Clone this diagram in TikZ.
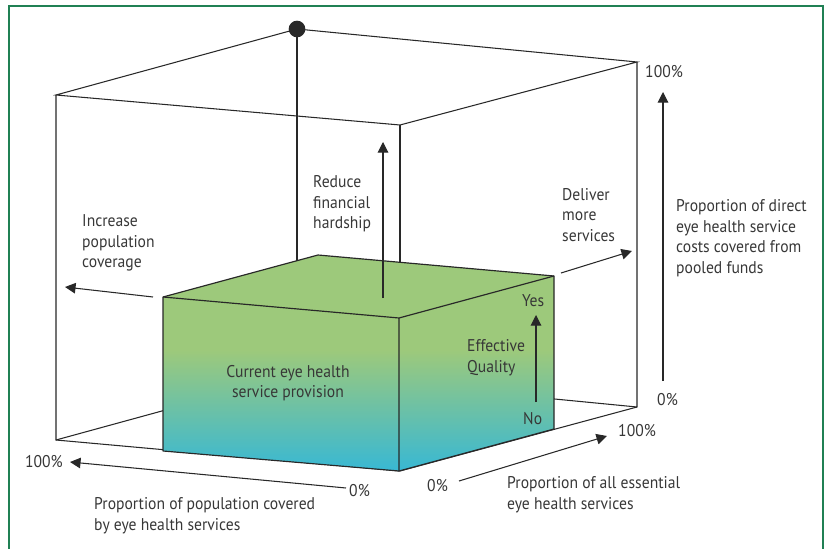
\documentclass[tikz,border=0pt]{standalone}
\usepackage{fontspec}
\setmainfont{PT Sans}[FakeStretch=0.92]
\usetikzlibrary{arrows.meta}

\definecolor{framegreen}{RGB}{32,128,84}
\definecolor{boxgreen}{RGB}{157,201,123}
\definecolor{boxcyan}{RGB}{56,184,212}
\definecolor{inkgray}{RGB}{40,40,40}
\definecolor{txtgray}{RGB}{55,55,55}
\pgfdeclareverticalshading{boxfade}{100bp}{color(0bp)=(boxcyan); color(25bp)=(boxcyan); color(56bp)=(boxgreen); color(100bp)=(boxgreen)}

\tikzset{
  cubeline/.style={draw=inkgray, line width=0.9pt},
  boxline/.style={draw=inkgray, line width=1pt, line join=round},
  pointer/.style={draw=inkgray, line width=0.9pt, -{Triangle[length=9pt,width=9pt]}},
  lbl/.style={inner sep=0pt, text=txtgray, font=\fontsize{14.5}{17.6}\selectfont, align=left},
}

\begin{document}
\begin{tikzpicture}[x=0.3mm, y=-0.3mm]
  \useasboundingbox (0,0) rectangle (830,549);
  % frame
  \draw[framegreen, line width=1.2pt] (9,549) -- (9,6) -- (823,6) -- (823,549);

  % the cube
  \coordinate (tl) at (56,95); \coordinate (tb) at (297,29); \coordinate (tr) at (637,62); \coordinate (tf) at (400,125);
  \coordinate (bl) at (56,440); \coordinate (bb) at (297,374); \coordinate (br) at (637,407); \coordinate (bf) at (400,471);
  \draw[cubeline] (tl) -- (tb) -- (tr) -- (tf) -- cycle;
  \draw[cubeline] (tl) -- (bl) -- (bf) -- (br) -- (tr);
  \draw[cubeline] (tf) -- (bf); \draw[cubeline] (tb) -- (bb);
  \draw[cubeline] (bl) -- (bb) -- (br);
  \node[circle, fill=inkgray, minimum size=5mm, inner sep=0pt] (peak) at (tb) {};

  % current provision box
  \coordinate (gl) at (163,297); \coordinate (gb) at (318,255); \coordinate (gr) at (554,276); \coordinate (gf) at (399,318);
  \coordinate (glb) at (163,451); \coordinate (grb) at (554,429); \coordinate (gfb) at (399,471);
  \shade[shading=boxfade] (gl) -- (gf) -- (gr) -- (grb) -- (gfb) -- (glb) -- cycle;
  \fill[boxgreen] (gl) -- (gb) -- (gr) -- (gf) -- cycle;
  \draw[boxline] (gl) -- (gb) -- (gr) -- (grb) -- (gfb) -- (glb) -- cycle;
  \draw[boxline] (gl) -- (gf) -- (gr) (gf) -- (gfb);

  % arrows
  \coordinate (incA) at (153,297); \coordinate (incB) at (65,287);
  \coordinate (redA) at (383,298); \coordinate (redB) at (383,142);
  \coordinate (delA) at (561,273); \coordinate (delB) at (632,251);
  \coordinate (costA) at (663,381); \coordinate (costB) at (663,92);
  \coordinate (qualA) at (536,402); \coordinate (qualB) at (536,315);
  \coordinate (popA) at (346,488); \coordinate (popB) at (70,462);
  \coordinate (svcA) at (459,481); \coordinate (svcB) at (607,436);
  \draw[pointer] (incA) -- (incB);
  \draw[pointer] (redA) -- (redB);
  \draw[pointer] (delA) -- (delB);
  \draw[pointer] (costA) -- (costB);
  \draw[pointer] (qualA) -- (qualB);
  \draw[pointer] (popA) -- (popB);
  \draw[pointer] (svcA) -- (svcB);

  % labels
  \node[lbl, anchor=west] (incr) at (82,243) {Increase\\population\\coverage};
  \node[lbl, anchor=west] (reduce) at (313,204) {Reduce\\financial\\hardship};
  \node[lbl, anchor=west] (deliver) at (562,215) {Deliver\\more\\services};
  \node[lbl, anchor=west] (direct) at (676,238) {Proportion of direct\\eye health service\\costs covered from\\pooled funds};
  \node[lbl, align=center] (current) at (288,383) {Current eye health\\service provision};
  \node[lbl, anchor=west] (effq) at (467,358) {Effective\\Quality};
  \node[lbl, anchor=west] (yes) at (522,301) {Yes};
  \node[lbl, anchor=west] (no) at (523,419) {No};
  \node[lbl, anchor=west] (costfull) at (645,72) {100\%};
  \node[lbl, anchor=west] (costnone) at (657,400) {0\%};
  \node[lbl, anchor=west] (svcfull) at (618,431) {100\%};
  \node[lbl, anchor=west] (svcnone) at (427,486) {0\%};
  \node[lbl, anchor=west] (svclbl) at (507,495) {Proportion of all essential\\eye health services};
  \node[lbl, anchor=east] (popfull) at (63,462) {100\%};
  \node[lbl, anchor=west] (popnone) at (349,491) {0\%};
  \node[lbl, anchor=west] (poplbl) at (94,516) {Proportion of population covered\\by eye health services};
\end{tikzpicture}
\end{document}
